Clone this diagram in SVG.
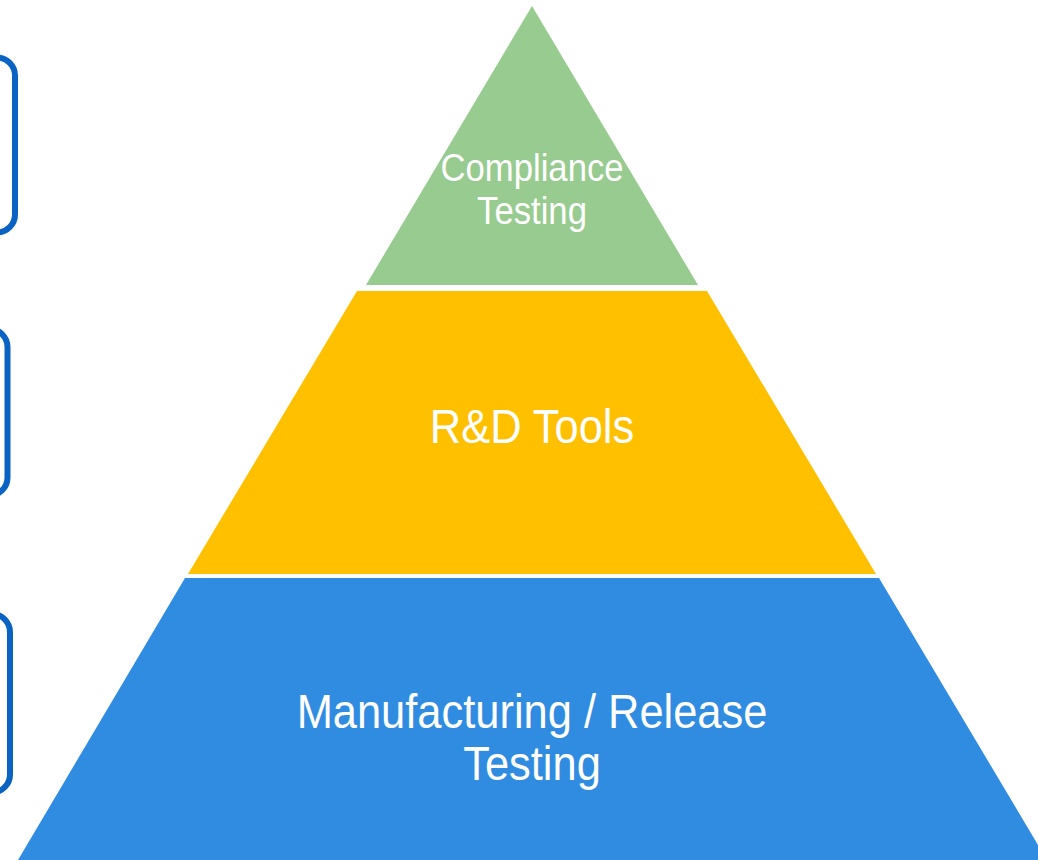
<svg xmlns="http://www.w3.org/2000/svg" width="1038" height="860" viewBox="0 0 1038 860">
<style>
.box{fill:none;stroke:#0A63C2;stroke-width:6}
.lbl{fill:#ffffff;font-family:"Liberation Sans",Arial,sans-serif;text-anchor:middle}
</style>
<rect width="1038" height="860" fill="#ffffff"/>
<g id="box1"><rect class="box" x="-60" y="57.5" width="75" height="175" rx="18"/></g>
<g id="box2"><rect class="box" x="-60" y="329" width="67.5" height="166.5" rx="18"/></g>
<g id="box3"><rect class="box" x="-60" y="614" width="70" height="178.5" rx="18"/></g>
<g id="tier-top">
<polygon points="532,6 698,285 366,285" fill="#98CB8F"/>
<text class="lbl" font-size="39" transform="translate(532,181) scale(0.89,1)">Compliance</text>
<text class="lbl" font-size="39" transform="translate(532,224) scale(0.89,1)">Testing</text>
</g>
<g id="tier-mid">
<polygon points="357,291 707,291 876,574 188,574" fill="#FFC000"/>
<text class="lbl" font-size="48" transform="translate(532,443) scale(0.905,1)">R&amp;D Tools</text>
</g>
<g id="tier-bottom">
<polygon points="185,578 879,578 1047,860 18,860" fill="#2F8CE1"/>
<text class="lbl" font-size="48" transform="translate(532,728) scale(0.905,1)">Manufacturing / Release</text>
<text class="lbl" font-size="48" transform="translate(532,780) scale(0.905,1)">Testing</text>
</g>
<g id="connectors"></g>
</svg>
